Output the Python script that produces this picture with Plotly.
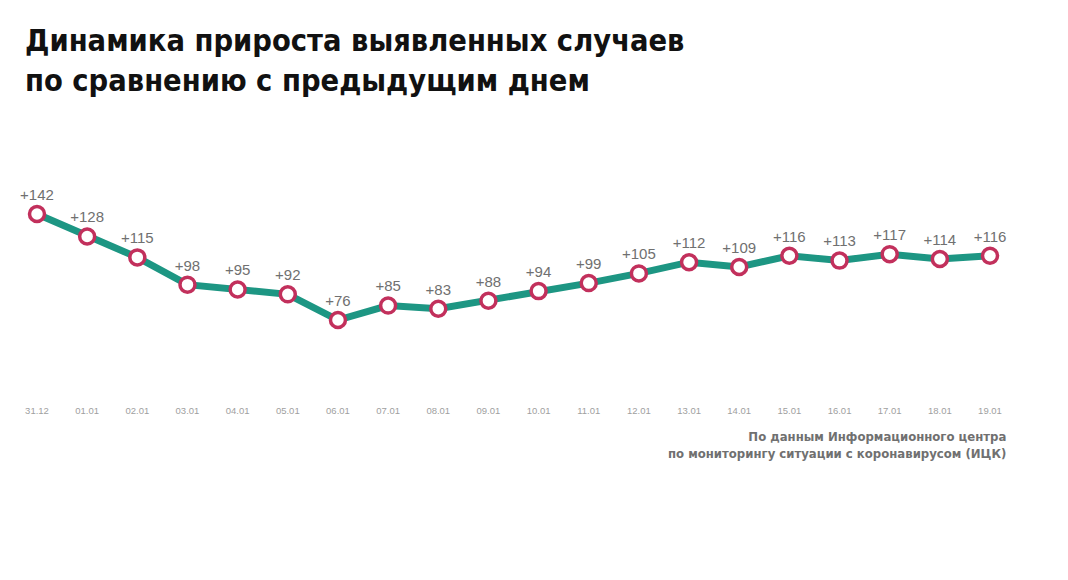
import plotly.graph_objects as go

dates = ["31.12", "01.01", "02.01", "03.01", "04.01", "05.01", "06.01", "07.01", "08.01", "09.01",
         "10.01", "11.01", "12.01", "13.01", "14.01", "15.01", "16.01", "17.01", "18.01", "19.01"]
values = [142, 128, 115, 98, 95, 92, 76, 85, 83, 88, 94, 99, 105, 112, 109, 116, 113, 117, 114, 116]
labels = ["+%d" % v for v in values]

title_text = "Динамика прироста выявленных случаев<br>по сравнению с предыдущим днем"
source_text = "По данным Информационного центра<br>по мониторингу ситуации с коронавирусом (ИЦК)"

xs = list(range(len(dates)))

fig = go.Figure()
fig.add_trace(go.Scatter(
    x=xs, y=values, mode="lines+markers+text",
    text=labels, textposition="top center",
    textfont=dict(family="Liberation Sans, Arial, sans-serif", size=15, color="#707070"),
    line=dict(color="#1d9683", width=7),
    marker=dict(size=15, color="white", line=dict(color="#c2305c", width=3.5)),
    hoverinfo="skip", cliponaxis=False,
))

fig.update_layout(
    width=1068, height=580,
    margin=dict(l=0, r=0, t=0, b=180),
    paper_bgcolor="white", plot_bgcolor="white",
    showlegend=False,
    xaxis=dict(range=[-0.7377, 20.555], tickvals=xs, ticktext=dates,
               showgrid=False, zeroline=False, showline=False, ticks="",
               tickfont=dict(family="Liberation Sans, Arial, sans-serif", size=9.5, color="#a0a0a0"),
               ticklabelstandoff=3),
    yaxis=dict(range=[26.2, 275.25], visible=False, showgrid=False, zeroline=False),
    annotations=[
        dict(text="<b>" + title_text + "</b>", xref="paper", yref="paper",
             x=23 / 1068, y=1 - 21 / 400, xanchor="left", yanchor="top", align="left",
             showarrow=False,
             font=dict(family="Liberation Sans Narrow, DejaVu Sans Condensed, sans-serif", size=30.5, color="#111111")),
        dict(text="<b>" + source_text + "</b>", xref="paper", yref="paper",
             x=1008 / 1068, y=1 - 427 / 400, xanchor="right", yanchor="top", align="right",
             showarrow=False,
             font=dict(family="Liberation Sans Narrow, DejaVu Sans Condensed, sans-serif", size=13, color="#707070")),
    ],
)

fig.write_html("out.html")
